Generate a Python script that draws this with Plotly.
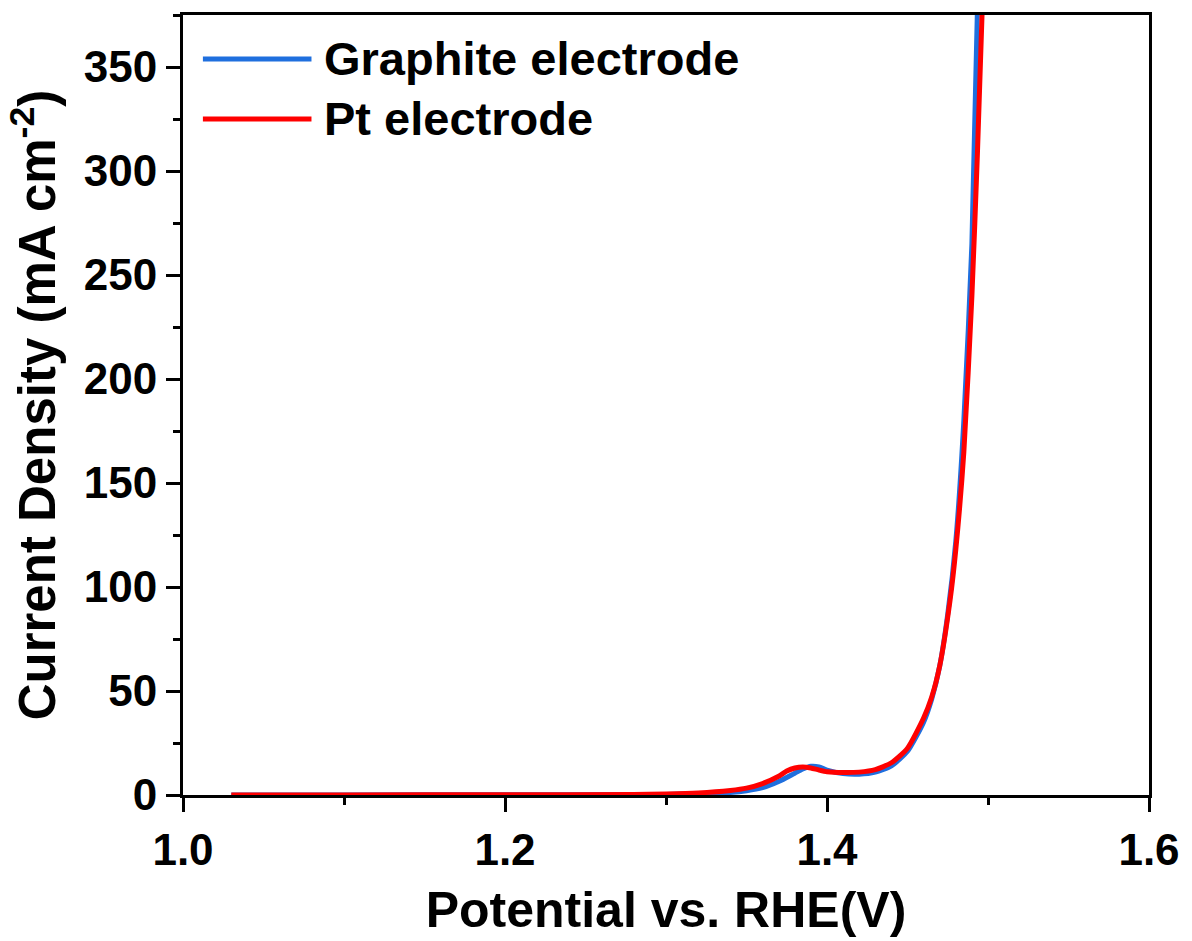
import plotly.graph_objects as go

# Linear sweep voltammetry data: potential (V vs. RHE) and current density (mA cm^-2)
graphite_v = [1.03, 1.10, 1.20, 1.28, 1.30, 1.32, 1.34, 1.35, 1.36, 1.37, 1.38, 1.385,
              1.39, 1.395, 1.40, 1.41, 1.42, 1.43, 1.44, 1.45, 1.46, 1.465, 1.47, 1.475,
              1.48, 1.485, 1.49, 1.4935]
graphite_j = [0.0, 0.05, 0.1, 0.2, 0.3, 0.6, 1.2, 2.0, 3.5, 6.5, 10.5, 12.5,
              13.8, 13.5, 12.0, 10.3, 10.0, 11.0, 14.0, 21.0, 35.0, 46.0, 62.0, 87.0,
              122.0, 180.0, 265.0, 380.0]

pt_v = [1.03, 1.10, 1.20, 1.28, 1.30, 1.32, 1.34, 1.35, 1.36, 1.37, 1.375, 1.38,
        1.385, 1.39, 1.395, 1.40, 1.41, 1.42, 1.43, 1.44, 1.45, 1.46, 1.465, 1.47,
        1.4765, 1.48, 1.485, 1.49, 1.4935, 1.4965]
pt_j = [0.0, 0.05, 0.1, 0.3, 0.5, 1.0, 2.2, 3.3, 5.5, 9.0, 11.5, 13.0,
        13.5, 13.0, 12.0, 11.2, 10.8, 11.0, 12.2, 15.5, 22.5, 37.0, 47.0, 62.0,
        94.0, 118.0, 165.0, 240.0, 310.0, 380.0]

x_ticks = [1.0, 1.2, 1.4, 1.6]
y_ticks = [0, 50, 100, 150, 200, 250, 300, 350]

series_names = ["Graphite electrode", "Pt electrode"]
series_colors = ["#1f6fde", "#ff0000"]

FONT = "Liberation Sans, Arial, sans-serif"

fig = go.Figure()
fig.add_trace(go.Scatter(x=graphite_v, y=graphite_j, mode="lines", name=series_names[0],
                         line=dict(color=series_colors[0], width=5, shape="spline", smoothing=0.6)))
fig.add_trace(go.Scatter(x=pt_v, y=pt_j, mode="lines", name=series_names[1],
                         line=dict(color=series_colors[1], width=5, shape="spline", smoothing=0.6)))

axis_common = dict(
    showline=True, linecolor="black", linewidth=3, mirror=True,
    ticks="outside", ticklen=14, tickwidth=3, tickcolor="black",
    showgrid=False, zeroline=False,
    tickfont=dict(family=FONT, size=44, color="black", weight="bold"),
)

fig.update_xaxes(
    range=[1.0, 1.6], tickvals=x_ticks, ticktext=[f"{v:.1f}" for v in x_ticks],
    minor=dict(ticks="outside", ticklen=7, tickwidth=3, tickcolor="black", dtick=0.1),
    title=dict(text="<b>Potential vs. RHE(V)</b>", standoff=20,
               font=dict(family=FONT, size=50, color="black")),
    **axis_common,
)
fig.update_yaxes(
    range=[0, 375], tickvals=y_ticks,
    minor=dict(ticks="outside", ticklen=7, tickwidth=3, tickcolor="black", dtick=25),
    title=dict(text="<b>Current Density (mA cm<sup>-2</sup>)</b>", standoff=12,
               font=dict(family=FONT, size=51, color="black")),
    **axis_common,
)

# Legend drawn as line samples with labels in the upper-left corner
legend_y = [0.9436, 0.8667]
for name, color, ly in zip(series_names, series_colors, legend_y):
    fig.add_shape(type="line", xref="paper", yref="paper", x0=0.0206, x1=0.133, y0=ly, y1=ly,
                  line=dict(color=color, width=5))
    fig.add_annotation(xref="paper", yref="paper", x=0.1442, y=ly, xanchor="left", yanchor="middle",
                       text=f"<b>{name}</b>", showarrow=False,
                       font=dict(family=FONT, size=47, color="black"))

fig.update_layout(
    width=1192, height=941,
    margin=dict(l=183, r=38, t=15, b=146),
    paper_bgcolor="white", plot_bgcolor="white",
    showlegend=False,
)

fig.write_html("out.html")
